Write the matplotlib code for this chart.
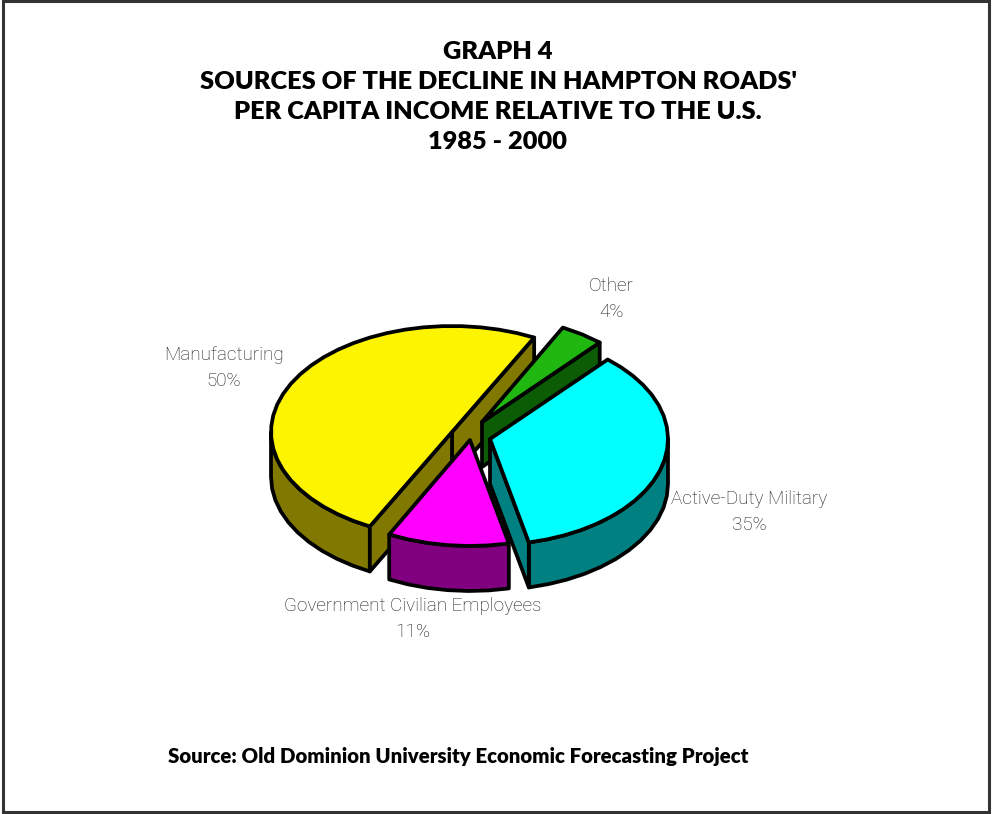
import numpy as np
import matplotlib
matplotlib.use("Agg")
import matplotlib.pyplot as plt
from matplotlib.patches import Polygon, Rectangle

categories = ["Manufacturing", "Government Civilian Employees", "Active-Duty Military", "Other"]
shares = [50, 11, 35, 4]
top_colors = ["#fcf400", "#ff00ff", "#00ffff", "#20b810"]
side_colors = ["#807800", "#800080", "#008080", "#0b5c05"]
# slice centres in pixels, the pie is drawn exploded
centers = [(452, 432), (470, 440), (490, 439), (482, 422)]
label_pos = [(224, 368), (413, 619), (749, 512), (611, 299)]
title_lines = ["GRAPH 4", "SOURCES OF THE DECLINE IN HAMPTON ROADS'",
               "PER CAPITA INCOME RELATIVE TO THE U.S.", "1985 - 2000"]
source = "Source: Old Dominion University Economic Forecasting Project"

RY, DEPTH = 106, 45
LW = 2.7
START = 63
radii = [181, 178, 178, 178]

fig = plt.figure(figsize=(9.92, 8.14), dpi=100)
ax = fig.add_axes([0, 0, 1, 1])
ax.set_xlim(0, 992)
ax.set_ylim(814, 0)
ax.axis("off")

ax.add_patch(Rectangle((3, 1), 986, 811, fill=False, ec="#333333", lw=2.2))


def rim(cx, cy, a0, a1, rx):
    # coarse steps, the original outline is faceted
    t = np.radians(np.linspace(a0, a1, max(int(abs(a1 - a0) / 6), 2) + 1))
    return np.column_stack([cx + rx * np.cos(t), cy - RY * np.sin(t)])


def poly(pts, color, z):
    ax.add_patch(Polygon(pts, closed=True, fc=color, ec="black", lw=LW, joinstyle="round", zorder=z))


angles = START + np.concatenate([[0], np.cumsum(shares)]) * 3.6

# back to front: yellow, green, magenta, cyan
for i, z in zip([0, 3, 1, 2], [1, 2, 3, 4]):
    cx, cy = centers[i]
    a0, a1 = angles[i], angles[i + 1]
    arc = rim(cx, cy, a0, a1, radii[i])
    c = np.array([cx, cy])
    down = np.array([0, DEPTH])
    # outer wall, only the part facing the viewer
    lo, hi = max(a0, 180), min(a1, 360)
    if hi > lo:
        wall = rim(cx, cy, lo, hi, radii[i])
        poly(np.vstack([wall, (wall + down)[::-1]]), side_colors[i], z)
    # cut faces
    if categories[i] == "Manufacturing":
        poly([arc[0], c, c + down, arc[0] + down], side_colors[i], z)
        poly([c, arc[-1], arc[-1] + down, c + down], side_colors[i], z)
    elif categories[i] in ("Active-Duty Military", "Other"):
        poly([c, arc[0], arc[0] + down, c + down], side_colors[i], z)
    poly(np.vstack([c, arc]), top_colors[i], z + 0.5)

for name, share, (x, y) in zip(categories, shares, label_pos):
    ax.text(x, y, f"{name}\n{share}%", ha="center", va="center", fontsize=13.6, family="Roboto",
            weight="light", color="#1a1a1a", linespacing=1.62, zorder=6)

for k, line in enumerate(title_lines):
    ax.text(498, 52 + k * 30, line, ha="center", va="center", fontsize=18.3, family="Lato",
            weight="heavy", color="black")
ax.text(168, 756, source, ha="left", va="center", fontsize=14.7, family="Lato", weight="heavy", color="black")

fig.savefig("out.png", dpi=100)
